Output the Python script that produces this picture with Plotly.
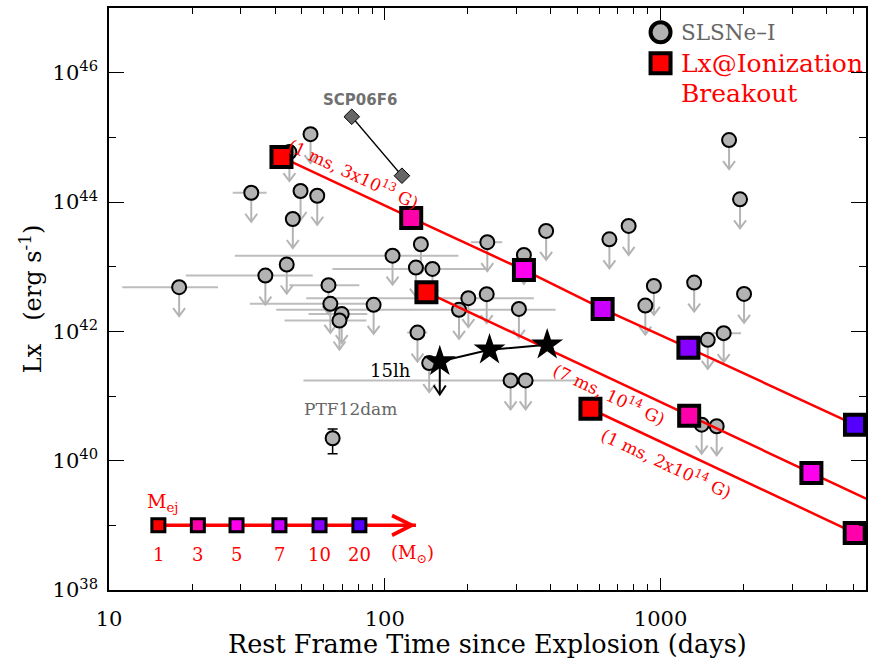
import numpy as np
import plotly.graph_objects as go

# ---------------- data ----------------
# SLSNe-I X-ray upper limits (rest-frame days, erg/s) with time ranges (None = no range)
sn_t = [17.96, 32.8, 36.9, 44.1, 45.1, 46.4, 49.5, 53.8, 56.9, 62.5, 63.5, 69.8, 68.5, 91.1,
        106.7, 131.4, 135.2, 129.7, 148.9, 144.9, 185.9, 200.9, 234.2, 235.4, 285.9, 324.1,
        306.5, 319.5, 384.7, 652.4, 766.1, 880.5, 945.8, 1324, 2008, 1483, 1694, 1410, 1598,
        1772, 1942]
sn_L = [4.82e42, 1.39e44, 7.28e42, 1.08e43, 5.92e44, 5.46e43, 1.48e44, 1.12e45, 1.25e44,
        5.17e42, 2.66e42, 1.85e42, 1.47e42, 2.57e42, 1.48e43, 9.58e41, 2.22e43, 9.67e42,
        9.23e42, 3.23e41, 2.15e42, 3.26e42, 3.76e42, 2.39e43, 1.74e41, 1.74e41, 2.22e42,
        1.52e43, 3.57e43, 2.65e43, 4.26e43, 2.50e42, 5.04e42, 5.67e42, 3.79e42, 7.39e41,
        9.38e41, 3.60e40, 3.41e40, 9.07e44, 1.10e44]
sn_t_lo = [11.17, 28.09, 18.99, None, None, None, None, None, None, 45.1, 32.4, 52.9, 43.3, None,
           28.6, 120.6, None, None, 64.6, None, 40.4, 51.9, None, 205.5, 50.7, None,
           None, None, None, None, None, None, None, None, None, None, 1491, None, None,
           None, None]
sn_t_hi = [24.85, 37.28, 54.8, None, None, None, None, None, None, 80.9, 95.5, 86.4, 85.8, None,
           184.9, 142.5, None, None, 232.3, None, 416.2, 347.3, None, 266.7, 505.1, None,
           None, None, None, None, None, None, None, None, None, None, 1959, None, None,
           None, None]

# SCP06F6
scp_t = [75.9, 115.4]
scp_L = [2.08e45, 2.55e44]

# PTF12dam detection
ptf_t = [64.7]
ptf_L = [2.22e40]
ptf_err_hi = [0.87e40]
ptf_err_lo = [0.94e40]

# SN 2015lh
lh_t = [158.3, 239.8, 388.1]
lh_L = [3.42e41, 5.18e41, 6.19e41]

# Ionization breakout models
mass_vals = [1, 3, 5, 7, 10, 20]
mass_colors = ["#ff0000", "#ff00aa", "#ff00ee", "#cc00ff", "#8800ff", "#5500ff"]

m1_t = [42.2, 124.7, 319.6, 616.6, 1262, 5070]
m1_L = [4.95e44, 5.66e43, 8.9e42, 2.22e42, 5.56e41, 3.6e40]
m1_mass = [1, 3, 5, 7, 10, 20]
m1_end = (5560, 3.0e40)
m1_label = "(1 ms, 3x10<sup>13</sup> G)"

m2_t = [141.6, 1270, 3524]
m2_L = [4.03e42, 4.95e40, 6.46e39]
m2_mass = [1, 3, 5]
m2_end = (5560, 2.59e39)
m2_label = "(7 ms, 10<sup>14</sup> G)"

m3_t = [556.9, 5058]
m3_L = [6.35e40, 7.64e38]
m3_mass = [1, 3]
m3_end = (5560, 6.3e38)
m3_label = "(1 ms, 2x10<sup>14</sup> G)"

# Mej colour key
key_t = [15.1, 21.0, 29.0, 41.5, 58.0, 80.9]
key_L = 1e39
key_arrow_end = 129.7

x_ticks = [10, 100, 1000]
x_ticktext = ["10", "100", "1000"]
y_ticks = [1e38, 1e40, 1e42, 1e44, 1e46]
y_ticktext = ["10<sup>38</sup>", "10<sup>40</sup>", "10<sup>42</sup>", "10<sup>44</sup>", "10<sup>46</sup>"]

# ---------------- styling ----------------
FONT = "DejaVu Serif"
GRAY_FILL = "#b3b3b3"
GRAY_LINE = "#bdbdbd"
col = dict(zip(mass_vals, mass_colors))
L = np.log10
PX_DEC_Y = 582 / 9.0       # pixels per decade (y)
PX_DEC_X = 759 / 2.745     # pixels per decade (x)


def limit_arrows(ts, Ls, length=29, head_h=8, head_w=6):
    """Build down-pointing upper-limit arrows (shaft + open chevron head) in data space."""
    f_tip = 10 ** (-length / PX_DEC_Y)
    f_head = 10 ** (-(length - head_h) / PX_DEC_Y)
    xf = 10 ** (head_w / PX_DEC_X)
    xs, ys = [], []
    for t, Lv in zip(ts, Ls):
        xs += [t, t, None, t / xf, t, t * xf, None]
        ys += [Lv, Lv * f_tip, None, Lv * f_head, Lv * f_tip, Lv * f_head, None]
    return xs, ys


fig = go.Figure()

# horizontal time ranges
e_minus = [t - lo if lo is not None else 0 for t, lo in zip(sn_t, sn_t_lo)]
e_plus = [hi - t if hi is not None else 0 for t, hi in zip(sn_t, sn_t_hi)]
fig.add_trace(go.Scatter(x=sn_t, y=sn_L, mode="markers",
                         marker=dict(size=1, opacity=0),
                         error_x=dict(type="data", symmetric=False, array=e_plus, arrayminus=e_minus,
                                      color=GRAY_LINE, thickness=2, width=0),
                         hoverinfo="skip", showlegend=False))

# upper-limit arrows
ax_, ay_ = limit_arrows(sn_t, sn_L)
fig.add_trace(go.Scatter(x=ax_, y=ay_, mode="lines", line=dict(color="#b4b4b4", width=2),
                         hoverinfo="skip", showlegend=False))

# SCP06F6
fig.add_trace(go.Scatter(x=scp_t, y=scp_L, mode="lines+markers",
                         line=dict(color="black", width=1.3),
                         marker=dict(symbol="diamond", size=12, color="#666666",
                                     line=dict(color="black", width=1)), showlegend=False))

# SLSNe circles
fig.add_trace(go.Scatter(x=sn_t, y=sn_L, mode="markers",
                         marker=dict(symbol="circle", size=14, color=GRAY_FILL,
                                     line=dict(color="black", width=2)), showlegend=False))

# PTF12dam
fig.add_trace(go.Scatter(x=ptf_t, y=ptf_L, mode="markers",
                         marker=dict(symbol="circle", size=14, color=GRAY_FILL,
                                     line=dict(color="black", width=2)),
                         error_y=dict(type="data", symmetric=False, array=ptf_err_hi,
                                      arrayminus=ptf_err_lo, color="black", thickness=1.5, width=5),
                         showlegend=False))

# model lines
for t, Lv, end in [(m1_t, m1_L, m1_end), (m2_t, m2_L, m2_end), (m3_t, m3_L, m3_end)]:
    fig.add_trace(go.Scatter(x=t + [end[0]], y=Lv + [end[1]], mode="lines",
                             line=dict(color="#ff0000", width=2.5), showlegend=False))

# 15lh
lx, ly = limit_arrows(lh_t[:1], lh_L[:1], length=33, head_h=9, head_w=6)
fig.add_trace(go.Scatter(x=lx, y=ly, mode="lines", line=dict(color="black", width=2),
                         hoverinfo="skip", showlegend=False))
fig.add_trace(go.Scatter(x=lh_t, y=lh_L, mode="lines+markers",
                         line=dict(color="black", width=2),
                         marker=dict(symbol="star", size=24, color="black"), showlegend=False))

# model squares
for t, Lv, ms in [(m1_t, m1_L, m1_mass), (m2_t, m2_L, m2_mass), (m3_t, m3_L, m3_mass)]:
    fig.add_trace(go.Scatter(x=t, y=Lv, mode="markers",
                             marker=dict(symbol="square", size=20, color=[col[m] for m in ms],
                                         line=dict(color="black", width=4)), showlegend=False))

# Mej key
fig.add_trace(go.Scatter(x=[key_t[0], key_arrow_end], y=[key_L, key_L], mode="lines",
                         line=dict(color="#ff0000", width=3.5), showlegend=False))
fig.add_trace(go.Scatter(x=key_t, y=[key_L] * len(key_t), mode="markers",
                         marker=dict(symbol="square", size=13, color=mass_colors,
                                     line=dict(color="black", width=3)), showlegend=False))

# legend symbols (top right)
fig.add_trace(go.Scatter(x=[1000], y=[4.2e46], mode="markers",
                         marker=dict(symbol="circle", size=20, color=GRAY_FILL,
                                     line=dict(color="black", width=4)), showlegend=False))
fig.add_trace(go.Scatter(x=[1000], y=[1.4e46], mode="markers",
                         marker=dict(symbol="square", size=20, color="#ff0000",
                                     line=dict(color="black", width=4)), showlegend=False))

ann = []
# key arrow head
ann.append(dict(x=L(key_arrow_end), y=L(key_L), text="", showarrow=True, ax=-12, ay=0,
                arrowhead=5, arrowsize=1.1, arrowwidth=3.5, arrowcolor="#ff0000"))

# model labels
lab_font = dict(family=FONT, size=17, color="#ff0000")
ann.append(dict(x=1.886, y=44.448, text=m1_label, showarrow=False, textangle=25, font=lab_font))
ann.append(dict(x=2.8156, y=41.035, text=m2_label, showarrow=False, textangle=25, font=lab_font))
ann.append(dict(x=3.0217, y=39.969, text=m3_label, showarrow=False, textangle=25, font=lab_font))

# object labels
ann.append(dict(x=L(scp_t[0]), y=L(scp_L[0]), text="<b>SCP06F6</b>", showarrow=False,
                xshift=8, yshift=17, font=dict(family="DejaVu Sans", size=15, color="#707070")))
ann.append(dict(x=L(ptf_t[0]), y=L(ptf_L[0]), text="PTF12dam", showarrow=False,
                xshift=18, yshift=29, font=dict(family=FONT, size=17, color="#666666")))
ann.append(dict(x=L(lh_t[0]), y=L(lh_L[0]), text="15lh", showarrow=False, xanchor="right",
                xshift=-27, yshift=-9, font=dict(family=FONT, size=18, color="black")))

# key labels
for t, m in zip(key_t, mass_vals):
    ann.append(dict(x=L(t), y=L(key_L), text=str(m), showarrow=False, yshift=-29,
                    font=dict(family=FONT, size=18, color="#ff0000")))
ann.append(dict(x=L(125.8), y=L(key_L), text="(M<sub>⊙</sub>)", showarrow=False, yshift=-29,
                font=dict(family=FONT, size=18, color="#ff0000")))
ann.append(dict(x=L(key_t[0]), y=L(key_L), text="M<sub>ej</sub>", showarrow=False,
                xshift=4, yshift=23, font=dict(family=FONT, size=19, color="#ff0000")))

# top-right legend texts
ann.append(dict(x=3, y=L(4.2e46), text="SLSNe–I", showarrow=False, xanchor="left", xshift=18,
                font=dict(family=FONT, size=21.5, color="#666666")))
ann.append(dict(x=3, y=L(1.4e46), text="Lx@Ionization", showarrow=False, xanchor="left",
                xshift=18, font=dict(family=FONT, size=25, color="#ff0000")))
ann.append(dict(x=3, y=L(1.4e46), text="Breakout", showarrow=False, xanchor="left",
                xshift=18, yshift=-30, font=dict(family=FONT, size=25, color="#ff0000")))

# axis titles
ann.append(dict(x=0.5, y=-0.0936, xref="paper", yref="paper", text="Rest Frame Time since Explosion (days)",
                showarrow=False, xanchor="center", yanchor="middle",
                font=dict(family=FONT, size=25.5, color="black")))
ann.append(dict(x=-0.1028, y=0.5, xref="paper", yref="paper",
                text="Lx\u00a0\u00a0\u00a0(erg s<sup>-1</sup>)",
                showarrow=False, textangle=-90, xanchor="center", yanchor="middle",
                font=dict(family=FONT, size=24, color="black")))

fig.update_layout(
    width=870, height=662,
    margin=dict(l=109, r=2, t=8, b=72),
    plot_bgcolor="white", paper_bgcolor="white",
    showlegend=False,
    annotations=ann,
    font=dict(family=FONT, size=20, color="black"),
)
fig.update_xaxes(type="log", range=[1, 3.745], showgrid=False, zeroline=False,
                 showline=True, linecolor="black", linewidth=1.5, mirror="allticks",
                 ticks="inside", ticklen=12, tickwidth=1.3, tickcolor="black",
                 tickvals=x_ticks, ticktext=x_ticktext, ticklabelstandoff=9,
                 tickfont=dict(family=FONT, size=21),
                 minor=dict(ticks="inside", ticklen=6, tickwidth=1.3, tickcolor="black",
                            tickvals=[20, 30, 40, 50, 60, 70, 80, 90, 200, 300, 400, 500, 600,
                                      700, 800, 900, 2000, 3000, 4000, 5000]))
fig.update_yaxes(type="log", range=[38, 47], showgrid=False, zeroline=False,
                 showline=True, linecolor="black", linewidth=1.5, mirror="allticks",
                 ticks="inside", ticklen=15, tickwidth=1.3, tickcolor="black",
                 tickvals=y_ticks, ticktext=y_ticktext, ticklabelstandoff=5,
                 tickfont=dict(family=FONT, size=21),
                 minor=dict(ticks="inside", ticklen=7, tickwidth=1.3, tickcolor="black",
                            tickvals=[1e39, 1e41, 1e43, 1e45]))

fig.write_html("out.html",
               config={"displayModeBar": False},
               post_script="document.body.style.margin='0';"
                           "document.documentElement.style.overflow='hidden';"
                           "document.body.style.overflow='hidden';")
